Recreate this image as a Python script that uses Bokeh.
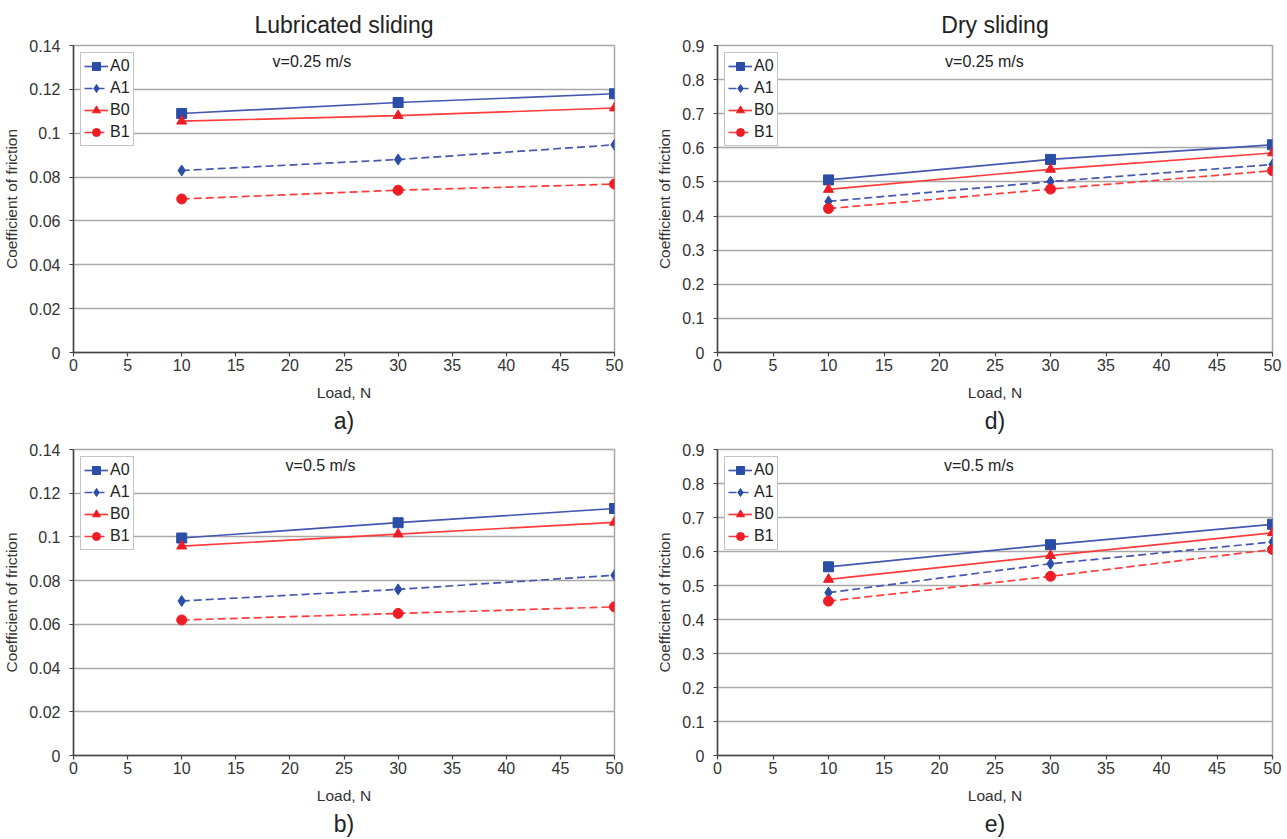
from bokeh.plotting import figure
from bokeh.models import Range1d, FixedTicker, Label, Title
from bokeh.layouts import column, row
from bokeh.embed import file_html
from bokeh.resources import INLINE

# ---------------- data ----------------
loads = [10, 30, 50]

# Lubricated sliding, v = 0.25 m/s (panel a)
lub025_A0 = [0.109, 0.114, 0.118]
lub025_A1 = [0.083, 0.088, 0.0947]
lub025_B0 = [0.1055, 0.108, 0.1115]
lub025_B1 = [0.070, 0.074, 0.0768]

# Lubricated sliding, v = 0.5 m/s (panel b)
lub05_A0 = [0.0995, 0.1065, 0.113]
lub05_A1 = [0.0707, 0.076, 0.0825]
lub05_B0 = [0.0958, 0.1013, 0.1067]
lub05_B1 = [0.062, 0.065, 0.068]

# Dry sliding, v = 0.25 m/s (panel d)
dry025_A0 = [0.506, 0.566, 0.609]
dry025_A1 = [0.443, 0.501, 0.551]
dry025_B0 = [0.478, 0.537, 0.585]
dry025_B1 = [0.422, 0.479, 0.533]

# Dry sliding, v = 0.5 m/s (panel e)
dry05_A0 = [0.555, 0.620, 0.680]
dry05_A1 = [0.479, 0.564, 0.628]
dry05_B0 = [0.518, 0.588, 0.655]
dry05_B1 = [0.454, 0.527, 0.606]

series_names = ["A0", "A1", "B0", "B1"]

x_ticks = [0, 5, 10, 15, 20, 25, 30, 35, 40, 45, 50]
y_ticks_lub = [0, 0.02, 0.04, 0.06, 0.08, 0.1, 0.12, 0.14]
y_labels_lub = ["0", "0.02", "0.04", "0.06", "0.08", "0.1", "0.12", "0.14"]
y_ticks_dry = [0, 0.1, 0.2, 0.3, 0.4, 0.5, 0.6, 0.7, 0.8, 0.9]
y_labels_dry = ["0", "0.1", "0.2", "0.3", "0.4", "0.5", "0.6", "0.7", "0.8", "0.9"]

FONT = "Liberation Sans"
BLUE_LINE = "#4557b0"
BLUE_MARK = "#2a4ea6"
RED_LINE = "#ff3b3b"
RED_MARK = "#ee1d25"


def make_panel(series, y_max, y_ticks, y_labels, speed_text, speed_xy,
               letter, top_title, w, h, bl, br, bt, bb):
    p = figure(width=w, height=h, output_backend="svg", toolbar_location=None,
               x_range=Range1d(0, 50), y_range=Range1d(0, y_max),
               min_border_left=bl, min_border_right=br,
               min_border_top=bt, min_border_bottom=bb,
               background_fill_color="white", border_fill_color="white")
    p.outline_line_color = "#a8a8a8"
    p.outline_line_width = 1.5
    p.xgrid.grid_line_color = None
    p.ygrid.grid_line_color = "#a8a8a8"
    p.ygrid.grid_line_width = 1.5

    p.xaxis.ticker = FixedTicker(ticks=x_ticks)
    p.yaxis.ticker = FixedTicker(ticks=y_ticks)
    p.yaxis.major_label_overrides = dict(zip(y_ticks, y_labels))
    for ax in (p.xaxis, p.yaxis):
        ax.axis_line_color = "#444444"
        ax.axis_line_width = 1.5
        ax.major_tick_line_color = "#444444"
        ax.major_tick_line_width = 1.2
        ax.major_tick_in = 0
        ax.major_tick_out = 4
        ax.minor_tick_line_color = None
        ax.major_label_text_font = FONT
        ax.major_label_text_font_size = "16px"
        ax.major_label_text_color = "#333333"
        ax.axis_label_text_font = FONT
        ax.axis_label_text_font_size = "15.5px"
        ax.axis_label_text_font_style = "normal"
        ax.axis_label_text_color = "#333333"
    p.xaxis.major_label_standoff = 2
    p.yaxis.major_label_standoff = 9
    p.xaxis.axis_label = "Load, N"
    p.xaxis.axis_label_standoff = 10
    p.yaxis.axis_label = "Coefficient of friction"
    p.yaxis.axis_label_standoff = 6

    a0, a1, b0, b1 = series
    styles = [
        (a0, BLUE_LINE, BLUE_MARK, "solid", "square", 10),
        (a1, BLUE_LINE, BLUE_MARK, "8 4", "diamond", 11),
        (b0, RED_LINE, RED_MARK, "solid", "triangle", 10),
        (b1, RED_LINE, RED_MARK, "8 4", "circle", 10),
    ]
    for name, (ys, lc, mc, dash, marker, size) in zip(series_names, styles):
        p.line(loads, ys, line_color=lc, line_width=1.7, line_dash=dash,
               legend_label=name)
        p.scatter(loads, ys, marker=marker, size=size, fill_color=mc,
                  line_color=mc, legend_label=name)

    lg = p.legend[0]
    lg.location = "top_left"
    lg.margin = 7
    lg.padding = 3
    lg.spacing = 2
    lg.label_height = 20
    lg.glyph_height = 20
    lg.glyph_width = 24
    lg.label_standoff = 2
    lg.label_text_font = FONT
    lg.label_text_font_size = "16px"
    lg.label_text_color = "#222222"
    lg.border_line_color = "#8a8a8a"
    lg.border_line_width = 1.2
    lg.background_fill_alpha = 1.0

    p.add_layout(Label(x=speed_xy[0], y=speed_xy[1], text=speed_text,
                       text_font=FONT, text_font_size="16px",
                       text_color="#222222", text_baseline="middle",
                       text_align="left"))

    if top_title:
        p.add_layout(Title(text=top_title, align="center", text_font=FONT,
                           text_font_size="23px", text_font_style="normal",
                           text_color="#222222", standoff=16), "above")
    p.add_layout(Title(text=letter, align="center", text_font=FONT,
                       text_font_size="23px", text_font_style="normal",
                       text_color="#222222", standoff=4), "below")
    return p


pa = make_panel([lub025_A0, lub025_A1, lub025_B0, lub025_B1], 0.14,
                y_ticks_lub, y_labels_lub, "v=0.25 m/s", (18.4, 0.1328),
                "a)", "Lubricated sliding", 650, 435, 69, 36, 45, 83)
pd_ = make_panel([dry025_A0, dry025_A1, dry025_B0, dry025_B1], 0.9,
                 y_ticks_dry, y_labels_dry, "v=0.25 m/s", (20.5, 0.854),
                 "d)", "Dry sliding", 637, 435, 67, 15, 45, 81)
pb = make_panel([lub05_A0, lub05_A1, lub05_B0, lub05_B1], 0.14,
                y_ticks_lub, y_labels_lub, "v=0.5 m/s", (19.6, 0.1327),
                "b)", None, 650, 404, 69, 36, 14, 83)
pe = make_panel([dry05_A0, dry05_A1, dry05_B0, dry05_B1], 0.9,
                y_ticks_dry, y_labels_dry, "v=0.5 m/s", (20.4, 0.854),
                "e)", None, 637, 404, 67, 15, 11, 84)

layout = column(row(pa, pd_), row(pb, pe))
open("out.html", "w").write(file_html(layout, INLINE))
